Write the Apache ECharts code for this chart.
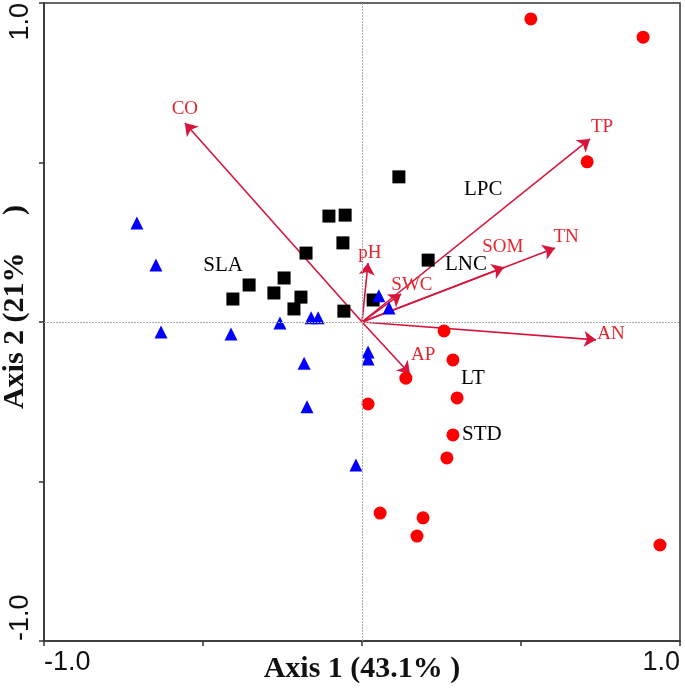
<!DOCTYPE html>
<html>
<head>
<meta charset="utf-8">
<script src="https://cdn.jsdelivr.net/npm/echarts@6/dist/echarts.min.js"></script>
<style>html,body{margin:0;padding:0;background:#fff}#c{width:685px;height:689px}</style>
</head>
<body>
<div id="c"></div>
<script>
// --- data ---
const squaresX = [0.116, -0.104, -0.053, -0.060, -0.176, 0.208, -0.355, -0.245, -0.406, -0.277, -0.192, -0.214, -0.057, 0.035];
const squaresY = [0.455, 0.332, 0.335, 0.248, 0.216, 0.194, 0.116, 0.138, 0.072, 0.091, 0.078, 0.041, 0.034, 0.069];
const trianglesX = [-0.708, -0.648, -0.632, -0.412, -0.258, -0.160, -0.138, -0.182, -0.173, -0.019, 0.019, 0.019, 0.053, 0.085];
const trianglesY = [0.310, 0.179, -0.031, -0.038, -0.003, 0.013, 0.013, -0.129, -0.266, -0.448, -0.094, -0.116, 0.082, 0.044];
const circlesX = [0.531, 0.884, 0.708, 0.258, 0.286, 0.138, 0.299, 0.019, 0.286, 0.267, 0.057, 0.192, 0.173, 0.937];
const circlesY = [0.950, 0.893, 0.502, -0.028, -0.119, -0.176, -0.238, -0.257, -0.354, -0.426, -0.599, -0.614, -0.671, -0.699];

const envNames = ['CO', 'TP', 'TN', 'SOM', 'SWC', 'pH', 'AN', 'AP'];
const envX = [-0.557, 0.717, 0.607, 0.447, 0.123, 0.019, 0.736, 0.151];
const envY = [0.624, 0.574, 0.232, 0.172, 0.088, 0.185, -0.056, -0.163];
const envLabelX = [-0.557, 0.755, 0.642, 0.443, 0.157, 0.025, 0.783, 0.192];
const envLabelY = [0.668, 0.611, 0.266, 0.235, 0.116, 0.216, -0.038, -0.103];

const traitNames = ['LPC', 'LNC', 'LT', 'STD', 'SLA'];
const traitX = [0.381, 0.327, 0.349, 0.377, -0.437];
const traitY = [0.414, 0.179, -0.176, -0.354, 0.176];

const tickLabels = ['-1.0', '1.0'];
const xTitle = 'Axis 1 (43.1% )';
const yTitle = 'Axis 2 (21%     )';

// --- chart ---
const zip = (a, b) => a.map((v, i) => [v, b[i]]);
const fmt = v => (Math.abs(v + 1) < 1e-9 ? tickLabels[0] : Math.abs(v - 1) < 1e-9 ? tickLabels[1] : '');

const chart = echarts.init(document.getElementById('c'));
const axisCommon = {
  type: 'value', min: -1, max: 1, interval: 0.5,
  splitLine: { show: false },
  axisLine: { show: true, onZero: false, lineStyle: { color: '#333', width: 1.5 } },
  axisTick: { show: true, inside: false, length: 5, lineStyle: { color: '#333', width: 1.5 } },
  nameLocation: 'middle',
  nameMoveOverlap: false
};
chart.setOption({
  animation: false,
  backgroundColor: '#fff',
  grid: { left: 44, right: 5, top: 3, bottom: 48, containLabel: false, outerBoundsMode: 'none',
    show: true, borderColor: '#333', borderWidth: 1.5 },
  xAxis: Object.assign({}, axisCommon, {
    name: xTitle, nameGap: 13,
    nameTextStyle: { fontFamily: 'Liberation Serif', fontWeight: 'bold', fontSize: 30, color: '#111' },
    axisLabel: { formatter: fmt, fontFamily: 'Liberation Sans', fontSize: 27, color: '#111', margin: 8,
      alignMinLabel: 'left', alignMaxLabel: 'right', showMinLabel: true, showMaxLabel: true }
  }),
  yAxis: Object.assign({}, axisCommon, {
    name: yTitle, nameGap: 14,
    nameTextStyle: { fontFamily: 'Liberation Serif', fontWeight: 'bold', fontSize: 30, color: '#111', padding: [0, 0, 0, 30] },
    axisLabel: { formatter: fmt, fontFamily: 'Liberation Sans', fontSize: 27, color: '#111', margin: 10, rotate: 90,
      alignMinLabel: 'left', alignMaxLabel: 'right', showMinLabel: true, showMaxLabel: true }
  }),
  series: [
    {
      type: 'scatter', data: [], silent: true,
      markLine: {
        silent: true, symbol: 'none', label: { show: false },
        lineStyle: { color: '#aaa', type: [2, 1], width: 1, opacity: 1 },
        data: [{ xAxis: 0 }, { yAxis: 0 }]
      }
    },
    {
      type: 'lines', coordinateSystem: 'cartesian2d', z: 3,
      symbol: ['none', 'arrow'], symbolSize: 12,
      lineStyle: { color: '#d7143c', width: 1.6, opacity: 1 },
      data: envX.map((x, i) => ({ coords: [[0, 0], [x, envY[i]]] }))
    },
    {
      type: 'scatter', symbol: 'rect', symbolSize: 13, z: 4,
      itemStyle: { color: '#000', opacity: 1 }, data: zip(squaresX, squaresY)
    },
    {
      type: 'scatter', symbol: 'triangle', symbolSize: 13, z: 4,
      itemStyle: { color: '#0000ff', opacity: 1 }, data: zip(trianglesX, trianglesY)
    },
    {
      type: 'scatter', symbol: 'circle', symbolSize: 13, z: 4,
      itemStyle: { color: '#ff0000', opacity: 1 }, data: zip(circlesX, circlesY)
    },
    {
      type: 'scatter', symbolSize: 0, z: 5, itemStyle: { opacity: 1 },
      label: { show: true, position: 'inside', formatter: p => p.name, fontFamily: 'Liberation Serif', fontSize: 19, color: '#e3262e', opacity: 1 },
      data: envNames.map((n, i) => ({ name: n, value: [envLabelX[i], envLabelY[i]] }))
    },
    {
      type: 'scatter', symbolSize: 0, z: 5, itemStyle: { opacity: 1 },
      label: { show: true, position: 'inside', formatter: p => p.name, fontFamily: 'Liberation Serif', fontSize: 21, color: '#000', opacity: 1 },
      data: traitNames.map((n, i) => ({ name: n, value: [traitX[i], traitY[i]] }))
    }
  ]
});
</script>
</body>
</html>
